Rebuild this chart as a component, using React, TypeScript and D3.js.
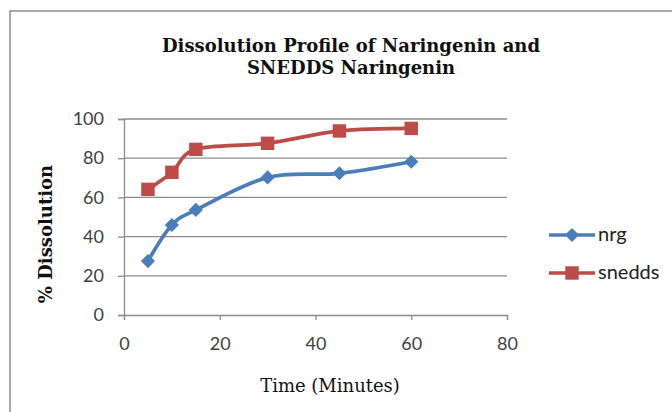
import * as d3 from "d3";
import { useEffect, useRef } from "react";

const times = [5, 10, 15, 30, 45, 60];
const nrg = [27.5, 45.9, 53.6, 70.2, 72.3, 78.2];
const snedds = [64.1, 72.8, 84.5, 87.6, 93.9, 95.2];
const xTicks = [0, 20, 40, 60, 80];
const yTicks = [0, 20, 40, 60, 80, 100];

export default function App() {
  const svgRef = useRef<SVGSVGElement>(null);

  useEffect(() => {
    if (!svgRef.current) return;
    const svg = d3.select(svgRef.current);
    svg.selectAll("*").remove();

    const width = 672;
    const height = 412;
    const tickFont = "Lato, 'Open Sans', sans-serif";
    const serif = "'DejaVu Serif', serif";

    svg.append("rect").attr("width", width).attr("height", height).attr("fill", "#fff");

    // chart frame
    svg
      .append("rect")
      .attr("x", 10)
      .attr("y", 11)
      .attr("width", 700)
      .attr("height", 420)
      .attr("fill", "none")
      .attr("stroke", "#8c8c8c")
      .attr("stroke-width", 1.5);

    const x = d3.scaleLinear().domain([0, 80]).range([124, 507]);
    const y = d3.scaleLinear().domain([0, 100]).range([315, 119]);

    // gridlines
    svg
      .append("g")
      .selectAll("line")
      .data(yTicks.filter((d) => d > 0))
      .enter()
      .append("line")
      .attr("x1", x(0))
      .attr("x2", x(80))
      .attr("y1", (d) => y(d))
      .attr("y2", (d) => y(d))
      .attr("stroke", "#8c8c8c")
      .attr("stroke-width", 1.3);

    const yAxis = svg
      .append("g")
      .attr("transform", `translate(${x(0)},0)`)
      .call(d3.axisLeft(y).tickValues(yTicks).tickSize(6).tickPadding(14));
    const xAxis = svg
      .append("g")
      .attr("transform", `translate(0,${y(0)})`)
      .call(d3.axisBottom(x).tickValues(xTicks).tickSize(5).tickPadding(17));

    [yAxis, xAxis].forEach((a) => {
      a.selectAll(".domain").attr("stroke", "#8c8c8c").attr("stroke-width", 1.3);
      a.selectAll(".tick line").attr("stroke", "#8c8c8c").attr("stroke-width", 1.3);
      a.selectAll(".tick text")
        .attr("fill", "#404040")
        .attr("font-size", "18px")
        .attr("font-family", tickFont);
    });

    const line = d3
      .line<[number, number]>()
      .x((d) => x(d[0]))
      .y((d) => y(d[1]))
      .curve(d3.curveCatmullRom.alpha(0));

    const series = [
      { name: "nrg", values: nrg, color: "#4a7ebb", rotate: 45, size: 100 },
      { name: "snedds", values: snedds, color: "#be4b48", rotate: 0, size: 180 },
    ];

    series.forEach((s) => {
      const pts = times.map((t, i) => [t, s.values[i]] as [number, number]);
      svg
        .append("path")
        .attr("d", line(pts))
        .attr("fill", "none")
        .attr("stroke", s.color)
        .attr("stroke-width", 3.7);
      svg
        .append("g")
        .selectAll("path")
        .data(pts)
        .enter()
        .append("path")
        .attr("transform", (d) => `translate(${x(d[0])},${y(d[1])}) rotate(${s.rotate})`)
        .attr("d", d3.symbol().type(d3.symbolSquare).size(s.size)())
        .attr("fill", s.color);
    });

    // legend
    const legend = svg.append("g");
    series.forEach((s, i) => {
      const ly = 235 + i * 38;
      legend
        .append("line")
        .attr("x1", 549)
        .attr("x2", 595)
        .attr("y1", ly)
        .attr("y2", ly)
        .attr("stroke", s.color)
        .attr("stroke-width", 3.7);
      legend
        .append("path")
        .attr("transform", `translate(572,${ly}) rotate(${s.rotate})`)
        .attr("d", d3.symbol().type(d3.symbolSquare).size(s.size)())
        .attr("fill", s.color);
      legend
        .append("text")
        .attr("x", 598)
        .attr("y", ly + 6)
        .attr("font-size", "20px")
        .attr("font-family", tickFont)
        .attr("fill", "#222")
        .text(s.name);
    });

    // titles
    const title = svg
      .append("text")
      .attr("text-anchor", "middle")
      .attr("font-family", serif)
      .attr("font-weight", "bold")
      .attr("font-size", "18px")
      .attr("fill", "#111");
    title.append("tspan").attr("x", 351).attr("y", 52).text("Dissolution Profile of Naringenin and");
    title.append("tspan").attr("x", 351).attr("y", 74).text("SNEDDS Naringenin");

    svg
      .append("text")
      .attr("transform", `translate(52,234) rotate(-90)`)
      .attr("text-anchor", "middle")
      .attr("font-family", serif)
      .attr("font-weight", "bold")
      .attr("font-size", "18px")
      .attr("fill", "#111")
      .text("% Dissolution");

    svg
      .append("text")
      .attr("x", 330)
      .attr("y", 392)
      .attr("text-anchor", "middle")
      .attr("font-family", serif)
      .attr("font-size", "18px")
      .attr("fill", "#111")
      .text("Time (Minutes)");
  }, []);

  return (
    <svg
      ref={svgRef}
      width={672}
      height={412}
      style={{ position: "absolute", left: 0, top: 0 }}
    ></svg>
  );
}
